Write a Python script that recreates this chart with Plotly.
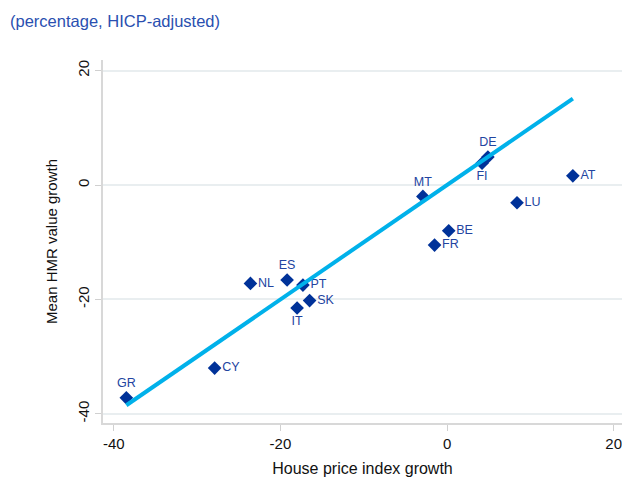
import plotly.graph_objects as go

countries = ["GR", "CY", "NL", "ES", "PT", "IT", "SK", "MT", "DE", "FI", "AT", "LU", "BE", "FR"]
hpi_growth = [-38.5, -27.9, -23.6, -19.2, -17.3, -18.0, -16.5, -2.9, 4.9, 4.2, 15.1, 8.4, 0.2, -1.5]
hmr_growth = [-37.2, -32.0, -17.2, -16.6, -17.5, -21.5, -20.2, -2.0, 4.9, 3.8, 1.6, -3.1, -8.0, -10.5]
label_pos = ["top center", "middle right", "middle right", "top center", "middle right",
             "bottom center", "middle right", "top center", "top center", "bottom center",
             "middle right", "middle right", "middle right", "middle right"]

x_ticks = [-40, -20, 0, 20]
y_ticks = [-40, -20, 0, 20]

fit_x = [min(hpi_growth), max(hpi_growth)]
fit_y = list(fit_x)  # 45-degree line

DARK = "#003299"
TEXT = "#22449f"
LINE = "#00b1ea"
FONT = "Liberation Sans, Arial, sans-serif"

fig = go.Figure()
fig.add_trace(go.Scatter(
    x=hpi_growth, y=hmr_growth, mode="markers+text",
    text=countries, textposition=label_pos,
    textfont=dict(family=FONT, size=12.5, color=TEXT),
    marker=dict(symbol="diamond", size=10.5, color=DARK, line=dict(width=0)),
    showlegend=False, cliponaxis=False,
))
fig.add_trace(go.Scatter(
    x=fit_x, y=fit_y, mode="lines",
    line=dict(color=LINE, width=4),
    showlegend=False,
))

fig.update_layout(
    width=622, height=477,
    margin=dict(l=103, r=0, t=60, b=54, autoexpand=False),
    paper_bgcolor="white", plot_bgcolor="white",
    font=dict(family=FONT, size=15, color="#222222"),
    title=dict(text="(percentage, HICP-adjusted)", x=10 / 622, xref="container",
               xanchor="left", y=1 - 21 / 477, yref="container", yanchor="middle",
               font=dict(family=FONT, size=16.5, color="#2a4fb0")),
)
fig.update_xaxes(
    range=[-41.3, 21.0], tickvals=x_ticks, ticktext=[str(v) for v in x_ticks],
    showgrid=False, zeroline=False, showline=True, linecolor="#d8d8d8", linewidth=1.5,
    ticks="outside", ticklen=6, tickcolor="#d0d0d0", tickfont=dict(size=15, color="#111111"),
    ticklabeloverflow="allow", automargin=False,
    title=dict(text="House price index growth", standoff=19, font=dict(size=16, color="#111111")),
)
fig.update_yaxes(
    range=[-41.6, 21.85], tickvals=y_ticks, ticktext=[str(v) for v in y_ticks],
    showgrid=True, gridcolor="#e9eef0", gridwidth=1.5, zeroline=False,
    showline=True, linecolor="#d8d8d8", linewidth=1.5,
    ticks="outside", ticklen=6, tickcolor="#d0d0d0", tickangle=-90,
    tickfont=dict(size=15, color="#111111"), automargin=False,
    title=dict(text="Mean HMR value growth", standoff=14, font=dict(size=15, color="#111111")),
)

fig.write_html("out.html")
